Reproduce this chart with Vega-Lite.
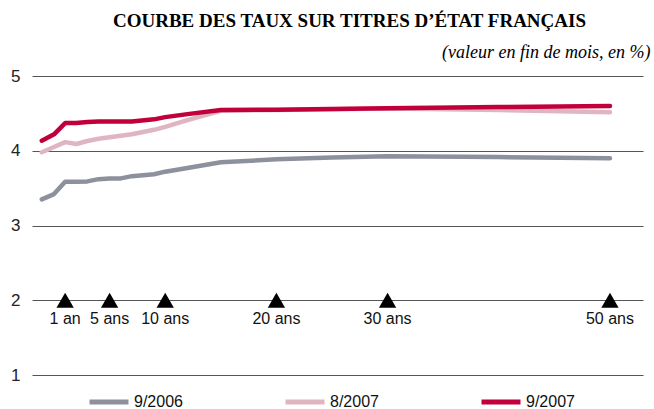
{
  "$schema": "https://vega.github.io/schema/vega-lite/v6.json",
  "width": 611,
  "height": 299,
  "autosize": {"type": "none"},
  "padding": {"left": 32, "top": 76, "right": 11, "bottom": 34},
  "background": "white",
  "title": {
    "text": "COURBE DES TAUX SUR TITRES D’ÉTAT FRANÇAIS",
    "font": "Liberation Serif",
    "fontSize": 19,
    "fontWeight": "bold",
    "color": "#000000",
    "anchor": "middle",
    "dx": 12,
    "offset": 12
  },
  "config": {
    "view": {"stroke": null},
    "font": "Liberation Sans"
  },
  "datasets": {
    "courbes": [
      {"position": -1.1, "serie": "9/2006", "taux": 3.35},
      {"position": 0, "serie": "9/2006", "taux": 3.42},
      {"position": 1, "serie": "9/2006", "taux": 3.585},
      {"position": 2, "serie": "9/2006", "taux": 3.585},
      {"position": 3, "serie": "9/2006", "taux": 3.59},
      {"position": 4, "serie": "9/2006", "taux": 3.62},
      {"position": 5, "serie": "9/2006", "taux": 3.63},
      {"position": 6, "serie": "9/2006", "taux": 3.63},
      {"position": 7, "serie": "9/2006", "taux": 3.66},
      {"position": 9, "serie": "9/2006", "taux": 3.685},
      {"position": 10, "serie": "9/2006", "taux": 3.72},
      {"position": 12, "serie": "9/2006", "taux": 3.77},
      {"position": 15, "serie": "9/2006", "taux": 3.845},
      {"position": 20, "serie": "9/2006", "taux": 3.885},
      {"position": 25, "serie": "9/2006", "taux": 3.91},
      {"position": 30, "serie": "9/2006", "taux": 3.925},
      {"position": 40, "serie": "9/2006", "taux": 3.915},
      {"position": 50, "serie": "9/2006", "taux": 3.9},
      {"position": -1.1, "serie": "8/2007", "taux": 3.98},
      {"position": 0, "serie": "8/2007", "taux": 4.05},
      {"position": 1, "serie": "8/2007", "taux": 4.115},
      {"position": 2, "serie": "8/2007", "taux": 4.09},
      {"position": 3, "serie": "8/2007", "taux": 4.13},
      {"position": 4, "serie": "8/2007", "taux": 4.16},
      {"position": 5, "serie": "8/2007", "taux": 4.18},
      {"position": 6, "serie": "8/2007", "taux": 4.2},
      {"position": 7, "serie": "8/2007", "taux": 4.22},
      {"position": 9, "serie": "8/2007", "taux": 4.28},
      {"position": 10, "serie": "8/2007", "taux": 4.32},
      {"position": 12, "serie": "8/2007", "taux": 4.41},
      {"position": 15, "serie": "8/2007", "taux": 4.535},
      {"position": 20, "serie": "8/2007", "taux": 4.545},
      {"position": 25, "serie": "8/2007", "taux": 4.555},
      {"position": 30, "serie": "8/2007", "taux": 4.565},
      {"position": 40, "serie": "8/2007", "taux": 4.545},
      {"position": 50, "serie": "8/2007", "taux": 4.515},
      {"position": -1.1, "serie": "9/2007", "taux": 4.135},
      {"position": 0, "serie": "9/2007", "taux": 4.22},
      {"position": 1, "serie": "9/2007", "taux": 4.37},
      {"position": 2, "serie": "9/2007", "taux": 4.37},
      {"position": 3, "serie": "9/2007", "taux": 4.385},
      {"position": 4, "serie": "9/2007", "taux": 4.39},
      {"position": 5, "serie": "9/2007", "taux": 4.39},
      {"position": 6, "serie": "9/2007", "taux": 4.39},
      {"position": 7, "serie": "9/2007", "taux": 4.39},
      {"position": 9, "serie": "9/2007", "taux": 4.42},
      {"position": 10, "serie": "9/2007", "taux": 4.45},
      {"position": 12, "serie": "9/2007", "taux": 4.49},
      {"position": 15, "serie": "9/2007", "taux": 4.545},
      {"position": 20, "serie": "9/2007", "taux": 4.55},
      {"position": 25, "serie": "9/2007", "taux": 4.56},
      {"position": 30, "serie": "9/2007", "taux": 4.57},
      {"position": 40, "serie": "9/2007", "taux": 4.585},
      {"position": 50, "serie": "9/2007", "taux": 4.6}
    ],
    "echeances": [
      {"position": 1, "niveau": 2, "label": "1 an"},
      {"position": 5, "niveau": 2, "label": "5 ans"},
      {"position": 10, "niveau": 2, "label": "10 ans"},
      {"position": 20, "niveau": 2, "label": "20 ans"},
      {"position": 30, "niveau": 2, "label": "30 ans"},
      {"position": 50, "niveau": 2, "label": "50 ans"}
    ]
  },
  "layer": [
    {
      "data": {"name": "courbes"},
      "mark": {"type": "line", "strokeWidth": 4.5, "strokeCap": "round", "strokeJoin": "round"},
      "encoding": {
        "x": {
          "field": "position",
          "type": "quantitative",
          "scale": {"domain": [-1.98, 52.97], "nice": false, "zero": false},
          "axis": {
            "orient": "top",
            "labels": false,
            "ticks": false,
            "domain": false,
            "grid": false,
            "title": "(valeur en fin de mois, en %)",
            "titleFont": "Liberation Serif",
            "titleFontStyle": "italic",
            "titleFontWeight": "normal",
            "titleFontSize": 18,
            "titleColor": "#000000",
            "titleAnchor": "end",
            "titleAlign": "right",
            "titleBaseline": "alphabetic",
            "titleX": 618,
            "titleY": -19
          }
        },
        "y": {
          "field": "taux",
          "type": "quantitative",
          "scale": {"domain": [1, 5], "nice": false, "zero": false},
          "axis": {
            "title": null,
            "values": [1, 2, 3, 4, 5],
            "format": "d",
            "domain": false,
            "ticks": false,
            "grid": true,
            "gridColor": "#555555",
            "gridWidth": 1,
            "gridOpacity": 1,
            "labelFont": "Liberation Sans",
            "labelFontSize": 17,
            "labelColor": "#222222",
            "labelPadding": 12
          }
        },
        "color": {
          "field": "serie",
          "type": "nominal",
          "sort": ["9/2006", "8/2007", "9/2007"],
          "scale": {"domain": ["9/2006", "8/2007", "9/2007"], "range": ["#8D919E", "#DFB5C1", "#C1003B"]},
          "legend": {
            "title": null,
            "orient": "none",
            "direction": "horizontal",
            "legendX": 55,
            "legendY": 304,
            "symbolType": "stroke",
            "symbolSize": 1521,
            "symbolStrokeWidth": 5,
            "labelFont": "Liberation Sans",
            "labelFontSize": 16,
            "labelColor": "#111111",
            "labelOffset": 3,
            "columnPadding": 92
          }
        },
        "order": {"field": "position", "type": "quantitative"}
      }
    },
    {
      "data": {"name": "echeances"},
      "mark": {"type": "point", "shape": "triangle-up", "filled": true, "color": "#000000", "opacity": 1, "size": 300},
      "encoding": {
        "x": {"field": "position", "type": "quantitative"},
        "y": {"field": "niveau", "type": "quantitative"}
      }
    },
    {
      "data": {"name": "echeances"},
      "mark": {"type": "text", "baseline": "top", "align": "center", "dy": 11, "font": "Liberation Sans", "fontSize": 16, "color": "#111111"},
      "encoding": {
        "x": {"field": "position", "type": "quantitative"},
        "y": {"field": "niveau", "type": "quantitative"},
        "text": {"field": "label", "type": "nominal"}
      }
    }
  ]
}
